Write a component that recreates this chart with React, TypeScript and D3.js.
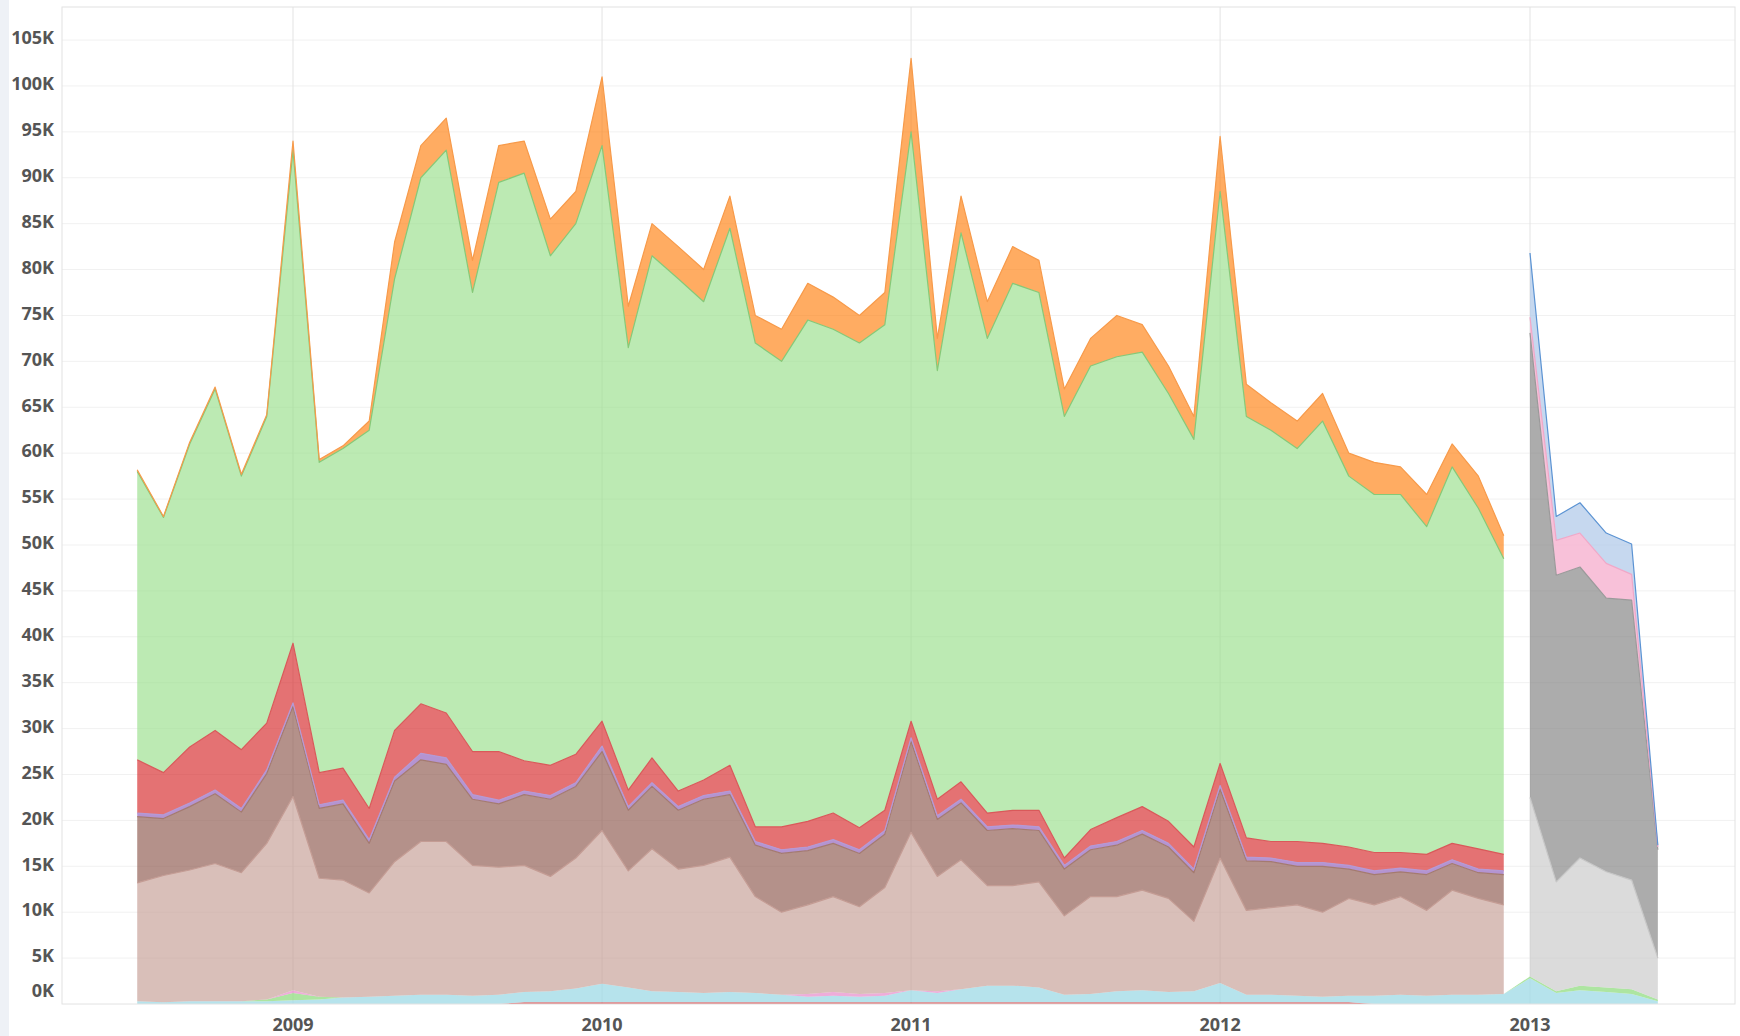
import React, { useEffect, useRef } from 'react';
import * as d3 from 'd3';

// Monthly categories, Jul 2008 .. Jun 2013 (values below are in thousands)
const months = d3.timeMonth.range(new Date(2008, 6, 1), new Date(2013, 6, 1));
const BLOCK_B_START = 54; // Jan 2013: second block of series begins here

const yearTicks = [2009, 2010, 2011, 2012, 2013];
const yTicks = [0, 5, 10, 15, 20, 25, 30, 35, 40, 45, 50, 55, 60, 65, 70, 75, 80, 85, 90, 95, 100, 105];

// thin series along the bottom, whole period (60 months)
const redSmall = [0, 0, 0, 0, 0, 0, 0, 0, 0, 0, 0, 0, 0, 0, 0, 0.2, 0.2, 0.2, 0.2, 0.2, 0.2, 0.2, 0.2, 0.2, 0.2, 0.2, 0.2, 0.2, 0.2, 0.2, 0.2, 0.2, 0.2, 0.2, 0.2, 0.2, 0.2, 0.2, 0.2, 0.2, 0.2, 0.2, 0.2, 0.2, 0.2, 0.2, 0.2, 0.2, 0, 0, 0, 0, 0, 0, 0, 0, 0, 0, 0, 0];
const cyan = [0.3, 0.2, 0.3, 0.3, 0.3, 0.3, 0.4, 0.5, 0.7, 0.8, 0.9, 1.0, 1.0, 0.9, 1.0, 1.1, 1.2, 1.5, 2.0, 1.6, 1.2, 1.1, 1.0, 1.1, 1.0, 0.8, 0.6, 0.7, 0.6, 0.7, 1.3, 1.0, 1.4, 1.8, 1.8, 1.6, 0.8, 0.9, 1.2, 1.3, 1.1, 1.2, 2.1, 0.8, 0.8, 0.7, 0.6, 0.7, 0.9, 1.0, 0.9, 1.0, 1.0, 1.1, 2.8, 1.2, 1.5, 1.3, 1.1, 0.3];
const greenSmall = [0, 0, 0, 0, 0, 0.2, 0.8, 0.3, 0, 0, 0, 0, 0, 0, 0, 0, 0, 0, 0, 0, 0, 0, 0, 0, 0, 0, 0, 0, 0, 0, 0, 0, 0, 0, 0, 0, 0, 0, 0, 0, 0, 0, 0, 0, 0, 0, 0, 0, 0, 0, 0, 0, 0, 0, 0.2, 0.2, 0.5, 0.5, 0.5, 0.2];
const pinkSmall = [0, 0, 0, 0, 0, 0, 0.3, 0, 0, 0, 0, 0, 0, 0, 0, 0, 0, 0, 0, 0, 0, 0, 0, 0, 0, 0, 0.3, 0.4, 0.3, 0.3, 0, 0.2, 0, 0, 0, 0, 0, 0, 0, 0, 0, 0, 0, 0, 0, 0, 0, 0, 0, 0, 0, 0, 0, 0, 0, 0, 0, 0, 0, 0];

// block A: Jul 2008 .. Dec 2012 (54 months)
const pinkBrown = [12.9, 13.8, 14.3, 15.0, 14.0, 17.0, 21.1, 12.9, 12.8, 11.3, 14.6, 16.7, 16.7, 14.2, 13.9, 13.8, 12.5, 14.2, 16.7, 12.7, 15.5, 13.4, 13.9, 14.7, 10.5, 9.0, 9.7, 10.4, 9.5, 11.5, 17.2, 12.5, 14.1, 10.9, 10.9, 11.5, 8.6, 10.6, 10.3, 10.9, 10.2, 7.6, 13.6, 9.2, 9.5, 9.9, 9.2, 10.6, 9.9, 10.7, 9.3, 11.4, 10.5, 9.7];
const brown = [7.2, 6.2, 6.9, 7.6, 6.6, 7.6, 9.8, 7.6, 8.3, 5.4, 8.8, 8.9, 8.4, 7.2, 6.9, 7.7, 8.4, 7.8, 8.6, 6.6, 6.8, 6.4, 7.2, 6.8, 5.6, 6.4, 5.9, 5.8, 5.8, 5.8, 9.9, 6.2, 6.2, 6.0, 6.2, 5.6, 5.1, 5.1, 5.6, 6.1, 5.6, 5.3, 7.5, 5.4, 5.0, 4.2, 5.0, 3.2, 3.3, 2.7, 3.9, 2.9, 2.8, 3.3];
const purple = [0.4, 0.4, 0.4, 0.4, 0.4, 0.4, 0.4, 0.4, 0.4, 0.4, 0.4, 0.7, 0.7, 0.5, 0.4, 0.4, 0.4, 0.4, 0.6, 0.4, 0.4, 0.4, 0.4, 0.4, 0.4, 0.4, 0.4, 0.4, 0.4, 0.4, 0.4, 0.4, 0.4, 0.4, 0.4, 0.4, 0.4, 0.4, 0.4, 0.4, 0.4, 0.4, 0.4, 0.4, 0.4, 0.4, 0.4, 0.4, 0.4, 0.4, 0.4, 0.4, 0.4, 0.4];
const red = [5.8, 4.6, 6.1, 6.5, 6.4, 5.1, 6.5, 3.5, 3.5, 3.4, 5.1, 5.4, 4.9, 4.7, 5.3, 3.3, 3.3, 3.1, 2.7, 1.8, 2.7, 1.7, 1.7, 2.8, 1.6, 2.5, 2.8, 2.9, 2.4, 2.2, 1.8, 1.8, 1.9, 1.5, 1.6, 1.8, 0.8, 1.8, 2.6, 2.6, 2.4, 2.4, 2.4, 2.1, 1.8, 2.3, 2.1, 2.0, 2.0, 1.7, 1.8, 1.8, 2.2, 1.8];
const green = [31.4, 27.8, 33.0, 37.2, 29.8, 33.4, 53.7, 33.8, 34.8, 41.2, 49.2, 57.3, 61.3, 50.0, 62.0, 64.0, 55.5, 57.8, 62.7, 48.2, 54.7, 55.8, 52.1, 58.5, 52.7, 50.7, 54.6, 52.7, 52.8, 52.9, 64.2, 46.7, 59.8, 51.7, 57.4, 56.4, 48.1, 50.5, 50.2, 49.5, 46.6, 44.4, 62.3, 45.9, 44.8, 42.8, 46.0, 40.4, 39.0, 39.0, 35.7, 41.0, 37.1, 32.2];
const orange = [0.2, 0.1, 0.2, 0.2, 0.2, 0.2, 1.0, 0.3, 0.3, 1.0, 4.0, 3.5, 3.5, 3.5, 4.0, 3.5, 4.0, 3.5, 7.5, 4.5, 3.5, 3.5, 3.5, 3.5, 3.0, 3.5, 4.0, 3.5, 3.0, 3.5, 8.0, 3.5, 4.0, 4.0, 4.0, 3.5, 3.0, 3.0, 4.5, 3.0, 3.0, 2.5, 6.0, 3.5, 3.0, 3.0, 3.0, 2.5, 3.5, 3.0, 3.5, 2.5, 3.5, 2.5];

// block B: Jan 2013 .. Jun 2013
const lightGray = [19.5, 11.9, 13.9, 12.6, 11.9, 4.5];
const darkGray = [50.6, 33.4, 31.7, 29.8, 30.5, 11.8];
const pink = [1.7, 3.8, 3.7, 3.8, 2.8, 0.3];
const lightBlue = [7.0, 2.6, 3.3, 3.3, 3.3, 0.2];

type Series = {
  key: string;
  values: number[];
  start: number;
  fill: string;
  opacity: number;
  stroke: string | null;
};

const series: Series[] = [
  { key: 'redSmall', values: redSmall, start: 0, fill: '#d62728', opacity: 0.7, stroke: null },
  { key: 'cyan', values: cyan, start: 0, fill: '#9edae5', opacity: 0.75, stroke: null },
  { key: 'greenSmall', values: greenSmall, start: 0, fill: '#98df8a', opacity: 0.8, stroke: null },
  { key: 'pinkSmall', values: pinkSmall, start: 0, fill: '#e377c2', opacity: 0.6, stroke: null },
  { key: 'pinkBrown', values: pinkBrown, start: 0, fill: '#c49c94', opacity: 0.65, stroke: '#c49c94' },
  { key: 'brown', values: brown, start: 0, fill: '#8c564b', opacity: 0.65, stroke: '#a47a70' },
  { key: 'purple', values: purple, start: 0, fill: '#9467bd', opacity: 0.7, stroke: '#b49ad6' },
  { key: 'red', values: red, start: 0, fill: '#d62728', opacity: 0.65, stroke: '#d9595a' },
  { key: 'green', values: green, start: 0, fill: '#98df8a', opacity: 0.65, stroke: '#85c978' },
  { key: 'orange', values: orange, start: 0, fill: '#ff7f0e', opacity: 0.65, stroke: '#f79a4a' },
  { key: 'lightGray', values: lightGray, start: BLOCK_B_START, fill: '#c7c7c7', opacity: 0.65, stroke: '#c7c7c7' },
  { key: 'darkGray', values: darkGray, start: BLOCK_B_START, fill: '#7f7f7f', opacity: 0.65, stroke: '#9a9a9a' },
  { key: 'pink', values: pink, start: BLOCK_B_START, fill: '#f7b6d2', opacity: 0.85, stroke: '#f0a8c8' },
  { key: 'lightBlue', values: lightBlue, start: BLOCK_B_START, fill: '#aec7e8', opacity: 0.7, stroke: '#5b93d3' },
];

const WIDTH = 1740;
const HEIGHT = 1036;

const StackedAreaChart: React.FC = () => {
  const svgRef = useRef<SVGSVGElement>(null);

  useEffect(() => {
    if (!svgRef.current) return;

    const plot = { left: 62, right: 1735, top: 7, bottom: 1004 };

    const svg = d3.select(svgRef.current);
    svg.selectAll('*').remove();

    // page strip on the far left
    svg.append('rect').attr('x', 0).attr('y', 0).attr('width', 9).attr('height', HEIGHT).attr('fill', '#eef1f6');

    const x = d3
      .scaleTime()
      .domain([new Date(2009, 0, 1), new Date(2013, 0, 1)])
      .range([293, 1530]);

    const y = d3.scaleLinear().domain([0, 108.6]).range([plot.bottom, plot.top]);

    // one row per month, missing values count as zero for stacking
    const present = (s: Series, i: number) => i >= s.start && i - s.start < s.values.length;
    const rows = months.map((m, i) => {
      const row: Record<string, number> = {};
      series.forEach((s) => {
        row[s.key] = present(s, i) ? s.values[i - s.start] : 0;
      });
      return row;
    });

    const stacked = d3.stack<Record<string, number>>().keys(series.map((s) => s.key))(rows);

    // Gridlines
    svg
      .append('g')
      .selectAll('line')
      .data(yTicks.filter((t) => t > 0))
      .enter()
      .append('line')
      .attr('x1', plot.left)
      .attr('x2', plot.right)
      .attr('y1', (d) => y(d))
      .attr('y2', (d) => y(d))
      .attr('stroke', '#f1f1f1')
      .attr('stroke-width', 1);

    svg
      .append('g')
      .selectAll('line')
      .data(yearTicks)
      .enter()
      .append('line')
      .attr('x1', (d) => x(new Date(d, 0, 1)))
      .attr('x2', (d) => x(new Date(d, 0, 1)))
      .attr('y1', plot.top)
      .attr('y2', plot.bottom)
      .attr('stroke', '#e3e3e3')
      .attr('stroke-width', 1);

    // Areas
    const areaG = svg.append('g');
    stacked.forEach((layer, li) => {
      const s = series[li];
      const area = d3
        .area<d3.SeriesPoint<Record<string, number>>>()
        .defined((_, i) => present(s, i))
        .x((_, i) => x(months[i]))
        .y0((d) => y(d[0]))
        .y1((d) => y(d[1]));
      areaG
        .append('path')
        .datum(layer)
        .attr('d', area)
        .attr('fill', s.fill)
        .attr('fill-opacity', s.opacity);
    });

    // Top edges
    const lineG = svg.append('g');
    stacked.forEach((layer, li) => {
      const s = series[li];
      if (!s.stroke) return;
      const line = d3
        .line<d3.SeriesPoint<Record<string, number>>>()
        .defined((_, i) => present(s, i))
        .x((_, i) => x(months[i]))
        .y((d) => y(d[1]));
      lineG
        .append('path')
        .datum(layer)
        .attr('d', line)
        .attr('fill', 'none')
        .attr('stroke', s.stroke)
        .attr('stroke-width', 1.2)
        .attr('stroke-linejoin', 'round');
    });

    // Plot frame
    svg
      .append('rect')
      .attr('x', plot.left)
      .attr('y', plot.top)
      .attr('width', plot.right - plot.left)
      .attr('height', plot.bottom - plot.top)
      .attr('fill', 'none')
      .attr('stroke', '#e2e2e2')
      .attr('stroke-width', 1);

    // Y axis labels
    svg
      .append('g')
      .selectAll('text')
      .data(yTicks)
      .enter()
      .append('text')
      .attr('x', 54)
      .attr('y', (d) => (d === 0 ? y(d) - 13 : y(d) - 2))
      .attr('dy', '0.35em')
      .attr('text-anchor', 'end')
      .style('font-family', '"Open Sans", "DejaVu Sans", sans-serif')
      .style('font-weight', 'bold')
      .style('font-size', '18px')
      .style('fill', '#555')
      .text((d) => `${d}K`);

    // X axis labels
    svg
      .append('g')
      .selectAll('text')
      .data(yearTicks)
      .enter()
      .append('text')
      .attr('x', (d) => x(new Date(d, 0, 1)))
      .attr('y', 1025)
      .attr('dy', '0.35em')
      .attr('text-anchor', 'middle')
      .style('font-family', '"Open Sans", "DejaVu Sans", sans-serif')
      .style('font-weight', 'bold')
      .style('font-size', '18px')
      .style('fill', '#555')
      .text((d) => String(d));

    return () => {
      svg.selectAll('*').remove();
    };
  }, []);

  return (
    <div style={{ position: 'fixed', left: 0, top: 0, width: WIDTH, height: HEIGHT, background: '#fff' }}>
      <svg ref={svgRef} width={WIDTH} height={HEIGHT} />
    </div>
  );
};

export default function App() {
  return <StackedAreaChart />;
}
